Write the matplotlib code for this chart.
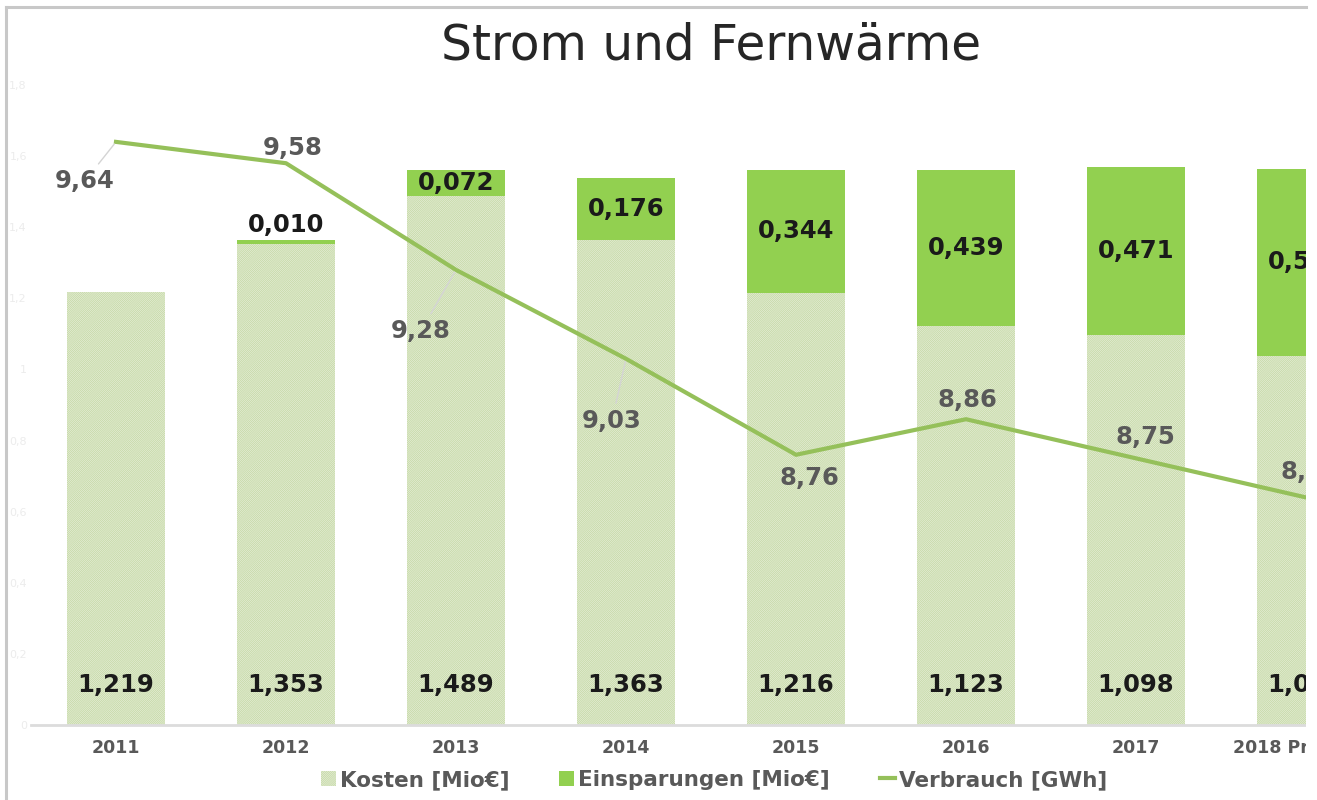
import matplotlib
matplotlib.use("Agg")
import matplotlib.pyplot as plt
from matplotlib.lines import Line2D
from matplotlib.patches import Patch, Rectangle
import numpy as np

# data
years = ['2011', '2012', '2013', '2014', '2015', '2016', '2017', '2018 Prognose']
kosten = [1.219, 1.353, 1.489, 1.363, 1.216, 1.123, 1.098, 1.039]          # Mio EUR
einsparungen = [0.0, 0.010, 0.072, 0.176, 0.344, 0.439, 0.471, 0.524]      # Mio EUR
verbrauch = [9.64, 9.58, 9.28, 9.03, 8.76, 8.86, 8.75, 8.64]                # GWh
left_ticks = [0, 0.2, 0.4, 0.6, 0.8, 1.0, 1.2, 1.4, 1.6, 1.8]

# label offsets for the line values (pixels) and whether a leader line is drawn
line_label_offsets = [(-31, -39), (7, 15), (-35, -61), (-14, -62), (13, -23), (1, 19), (9, 21), (4, 25)]
line_label_leader = [True, False, True, True, False, False, False, False]

c_kosten = '#e8f0dc'
c_hatch = '#c6d9a6'
c_spar = '#92d050'
c_line = '#95c05a'
c_text = '#595959'

plt.rcParams['font.family'] = 'DejaVu Sans'
plt.rcParams['hatch.linewidth'] = 0.6

W, H = 1317, 800
fig = plt.figure(figsize=(W / 100, H / 100), dpi=100)

def fx(px):
    return px / W

def fy(py):
    return 1 - py / H

# axes run past the right edge of the picture (the chart is cropped there)
ax = fig.add_axes([fx(31), fy(725), 1360 / W, 640 / H])
x = np.arange(len(years))
width = 0.58

ax.bar(x, kosten, width, color=c_kosten, edgecolor=c_hatch, linewidth=0, hatch='/' * 16,
       label='Kosten [Mio€]', zorder=2)
ax.bar(x, einsparungen, width, bottom=kosten, color=c_spar, linewidth=0,
       label='Einsparungen [Mio€]', zorder=2)

ax.set_xlim(-0.5, 7.5)
ax.set_ylim(0, 1.8)
ax.set_xticks(x)
ax.set_xticklabels(years, fontsize=12.5, fontweight='bold', color=c_text)
ax.set_yticks(left_ticks)
ax.set_yticklabels([f"{t:g}".replace('.', ',') for t in left_ticks], fontsize=8, color='#ececec')
ax.tick_params(axis='both', length=0)
ax.tick_params(axis='x', pad=10)
ax.tick_params(axis='y', pad=3)
for side in ['left', 'right', 'top']:
    ax.spines[side].set_visible(False)
ax.spines['bottom'].set_color('#dcdcdc')
ax.spines['bottom'].set_linewidth(2)

def fmt(v):
    return f"{v:.3f}".replace('.', ',')

for i in range(len(years)):
    ax.annotate(fmt(kosten[i]), (x[i], 0), xytext=(0, 40), textcoords='offset pixels',
                ha='center', va='center', fontsize=17.5, fontweight='bold', color='#1a1a1a', zorder=5)
    if einsparungen[i] <= 0:
        continue
    if einsparungen[i] < 0.03:
        ax.annotate(fmt(einsparungen[i]), (x[i], kosten[i] + einsparungen[i]), xytext=(0, 15),
                    textcoords='offset pixels', ha='center', va='center', fontsize=17.5,
                    fontweight='bold', color='#1a1a1a', zorder=5)
    else:
        ax.text(x[i], kosten[i] + einsparungen[i] / 2, fmt(einsparungen[i]), ha='center', va='center',
                fontsize=17.5, fontweight='bold', color='#1a1a1a', zorder=5)

ax2 = ax.twinx()
ax2.set_ylim(8.0, 9.8)
ax2.plot(x, verbrauch, color=c_line, lw=3, solid_joinstyle='round', zorder=3, label='Verbrauch [GWh]')
ax2.set_yticks([])
for side in ['left', 'right', 'top', 'bottom']:
    ax2.spines[side].set_visible(False)

for i, v in enumerate(verbrauch):
    props = None
    if line_label_leader[i]:
        props = dict(arrowstyle='-', color='#d4d4d4', lw=1, shrinkA=2, shrinkB=2)
    ax2.annotate(f"{v:.2f}".replace('.', ','), (x[i], v), xytext=line_label_offsets[i],
                 textcoords='offset pixels', ha='center', va='center', fontsize=17.5,
                 fontweight='bold', color=c_text, arrowprops=props, zorder=5)

# title and legend are centred on the full (uncropped) chart
fig.text(fx(711), fy(45), 'Strom und Fernwärme', ha='center', va='center', fontsize=35, color='#262626')

handles = [Patch(facecolor=c_kosten, edgecolor=c_hatch, linewidth=0, hatch='/' * 16),
           Patch(facecolor=c_spar, linewidth=0),
           Line2D([0], [0], color=c_line, lw=3)]
labels = ['Kosten [Mio€]', 'Einsparungen [Mio€]', 'Verbrauch [GWh]']
fig.legend(handles, labels, loc='center', bbox_to_anchor=(fx(714), fy(780)), ncol=3, frameon=False,
           prop={'size': 15.5, 'weight': 'bold'}, labelcolor=c_text, handlelength=0.7, handleheight=0.7,
           handletextpad=0.2, columnspacing=2.3, borderaxespad=0)

# the screenshot is cut at x = 1306: blank out the rest
fig.add_artist(Rectangle((fx(1306), 0), 1 - fx(1306), 1, transform=fig.transFigure,
                         facecolor='white', edgecolor='none', zorder=10))

# grey frame of the screenshot
fig.add_artist(Line2D([fx(6), fx(6)], [0, fy(7)], color='#c8c8c8', lw=2.2, transform=fig.transFigure, zorder=11))
fig.add_artist(Line2D([fx(6), fx(1306)], [fy(7), fy(7)], color='#c8c8c8', lw=2.2, transform=fig.transFigure, zorder=11))

fig.savefig('out.png', dpi=100, facecolor='white')
